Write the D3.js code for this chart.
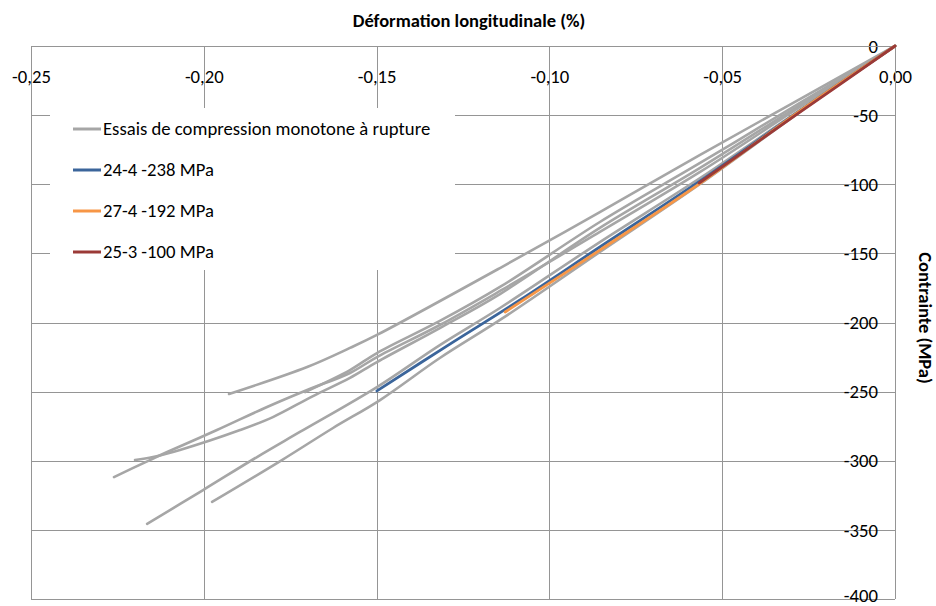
<!DOCTYPE html>
<html>
<head>
<meta charset="utf-8">
<script src="https://cdn.jsdelivr.net/npm/d3@7"></script>
<style>
  html, body { margin: 0; padding: 0; background: #ffffff; }
  svg { display: block; font-family: Carlito, "Open Sans", Lato, sans-serif; }
</style>
</head>
<body>
<svg id="chart" width="936" height="606"></svg>
<script>
// ---------- data (strain %, stress MPa) ----------
const xTicks = [-0.25, -0.20, -0.15, -0.10, -0.05, 0.00];
const yTicks = [0, -50, -100, -150, -200, -250, -300, -350, -400];

const essaiA = [[0,0],[-0.0564,-78.8],[-0.0854,-120.1],[-0.1143,-160.6],[-0.1499,-209.0],[-0.1577,-218.4],[-0.1701,-232.2],[-0.1927,-251.7]];
const essaiB = [[0,0],[-0.0275,-42.7],[-0.0564,-88.2],[-0.0854,-131.6],[-0.1143,-179.4],[-0.1317,-204.0],[-0.1499,-228.6],[-0.1577,-240.1],[-0.1684,-253.2],[-0.1800,-268.4],[-0.1895,-277.8],[-0.2069,-292.2],[-0.2147,-297.3],[-0.2199,-299.5]];
const essaiC = [[0,0],[-0.0275,-44.1],[-0.0564,-91.1],[-0.0854,-134.5],[-0.1143,-177.2],[-0.1317,-201.8],[-0.1499,-225.0],[-0.1577,-236.5],[-0.1701,-248.8],[-0.1817,-261.1],[-0.1962,-277.8],[-0.2106,-293.7],[-0.2156,-299.5],[-0.2260,-311.8]];
const essaiF = [[0,0],[-0.0275,-41.2],[-0.0564,-84.6],[-0.0854,-127.3],[-0.1143,-174.3],[-0.1317,-198.9],[-0.1499,-222.1],[-0.1577,-234.4],[-0.1707,-250.3]];
const essaiD = [[0,0],[-0.0275,-46.3],[-0.0564,-95.5],[-0.0854,-141.8],[-0.1143,-189.5],[-0.1317,-216.3],[-0.1499,-246.7],[-0.1722,-279.2],[-0.1846,-297.3],[-0.2002,-321.2],[-0.2164,-345.7]];
const essaiE = [[0,0],[-0.0275,-47.7],[-0.0564,-99.8],[-0.0854,-149.0],[-0.1134,-196.7],[-0.1317,-225.7],[-0.1490,-256.1],[-0.1626,-276.3],[-0.1774,-299.5],[-0.1976,-329.8]];

const serie24_4 = [[0,0],[-0.0275,-46.8],[-0.0564,-97.6],[-0.0854,-145.4],[-0.1085,-183.7],[-0.1288,-215.6],[-0.1499,-249.5]];
const serie27_4 = [[0,0],[-0.0275,-47.0],[-0.0564,-99.4],[-0.0854,-147.6],[-0.1128,-192.4]];
const serie25_3 = [[0,0],[-0.0275,-47.9],[-0.0567,-99.1]];

const legendLabels = ["Essais de compression monotone à rupture", "24-4 -238 MPa", "27-4 -192 MPa", "25-3 -100 MPa"];
const colors = ["#a6a6a6", "#3b659b", "#f79646", "#9b3a37"];

const grayTests = [essaiA, essaiB, essaiC, essaiF, essaiD, essaiE];
const colored = [serie24_4, serie27_4, serie25_3];

// ---------- layout ----------
const svg = d3.select("#chart");
const L = 31, R = 895, T = 46, B = 599;
const x = d3.scaleLinear().domain([-0.25, 0]).range([L, R]);
const y = d3.scaleLinear().domain([-400, 0]).range([B, T]);
const gridColor = "#959595";
const tickFont = "Carlito, 'Open Sans', sans-serif";
const fs = 18.7;

// gridlines
svg.append("g")
  .attr("transform", `translate(0,${T})`)
  .call(d3.axisBottom(x).tickValues(xTicks).tickSize(B - T).tickFormat(""))
  .call(g => g.select(".domain").remove())
  .call(g => g.selectAll("line").attr("stroke", gridColor).attr("shape-rendering", "crispEdges"));
svg.append("g")
  .attr("transform", `translate(${R},0)`)
  .call(d3.axisLeft(y).tickValues(yTicks).tickSize(R - L).tickFormat(""))
  .call(g => g.select(".domain").remove())
  .call(g => g.selectAll("line").attr("stroke", gridColor).attr("shape-rendering", "crispEdges"));

// legend background (hides grid)
svg.append("rect").attr("x", 50).attr("y", 108).attr("width", 405).attr("height", 162).attr("fill", "#fff");

// axis labels
const fmtX = d => d3.format(".2f")(d).replace(".", ",").replace("−", "-");
svg.append("g")
  .attr("transform", `translate(0,${T})`)
  .call(d3.axisBottom(x).tickValues(xTicks).tickSize(0).tickPadding(24).tickFormat(fmtX))
  .call(g => g.select(".domain").remove())
  .call(g => g.selectAll("text").attr("font-size", fs).attr("fill", "#000").attr("font-family", tickFont));
svg.append("g")
  .attr("transform", `translate(${R},0)`)
  .call(d3.axisLeft(y).tickValues(yTicks).tickSize(0).tickPadding(17).tickFormat(d => String(d)))
  .call(g => g.select(".domain").remove())
  .call(g => g.selectAll("text").attr("font-size", fs).attr("dy", d => d === -400 ? "0.15em" : "0.33em")
    .attr("fill", "#000").attr("font-family", tickFont));

// axis lines
svg.append("line").attr("x1", L).attr("x2", R).attr("y1", T).attr("y2", T).attr("stroke", gridColor).attr("shape-rendering", "crispEdges");
svg.append("line").attr("x1", R).attr("x2", R).attr("y1", T).attr("y2", B).attr("stroke", gridColor).attr("shape-rendering", "crispEdges");

// titles
svg.append("text").attr("x", 469).attr("y", 27).attr("text-anchor", "middle")
  .attr("font-weight", "bold").attr("font-size", 18.5).text("Déformation longitudinale (%)");
svg.append("text").attr("transform", "translate(919,318) rotate(90)").attr("text-anchor", "middle")
  .attr("font-weight", "bold").attr("font-size", 18.5).text("Contrainte (MPa)");

// curves
const line = d3.line().x(d => x(d[0])).y(d => y(d[1])).curve(d3.curveCatmullRom.alpha(0.5));
svg.append("g").selectAll("path").data(grayTests).join("path")
  .attr("d", line).attr("fill", "none").attr("stroke", colors[0]).attr("stroke-width", 2.6)
  .attr("stroke-linejoin", "round").attr("stroke-linecap", "round");
svg.append("g").selectAll("path").data(colored).join("path")
  .attr("d", line).attr("fill", "none").attr("stroke", (d, i) => colors[i + 1]).attr("stroke-width", 2.8)
  .attr("stroke-linejoin", "round").attr("stroke-linecap", "round");

// legend
const lg = svg.append("g");
const legY = [129, 170, 211, 252];
legendLabels.forEach((t, i) => {
  lg.append("line").attr("x1", 73).attr("x2", 101).attr("y1", legY[i]).attr("y2", legY[i])
    .attr("stroke", colors[i]).attr("stroke-width", 3);
  lg.append("text").attr("x", 103).attr("y", legY[i]).attr("dy", "0.34em")
    .attr("font-size", fs).attr("fill", "#000").text(t);
});
</script>
</body>
</html>
